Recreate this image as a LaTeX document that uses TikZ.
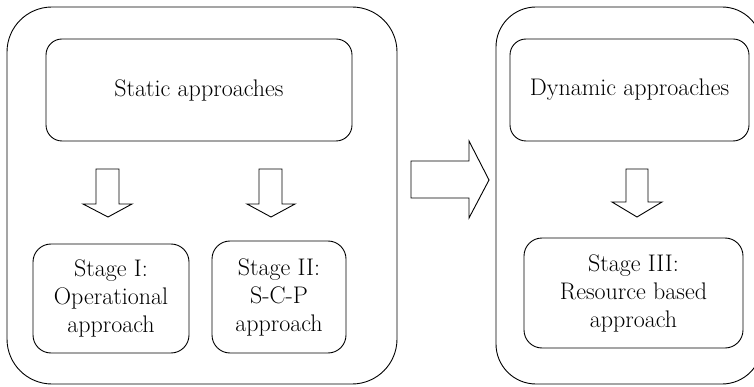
\documentclass[tikz,border=0pt]{standalone}
\begin{document}
\begin{tikzpicture}[x=1pt,y=-1pt,
  box/.style={draw, line width=0.9pt, rounded corners=#1, inner sep=0pt, align=center,
    font=\rmfamily\fontsize{24}{28}\selectfont},
  box/.default=16pt,
  blockarrow/.style={draw, line width=0.9pt, fill=white}]
\useasboundingbox (0,0) rectangle (754,387);
% outer containers
\node[box=45pt, minimum width=390pt, minimum height=377pt] (outerL) at (202,195.5) {};
\node[box=40pt, minimum width=266pt, minimum height=377pt] (outerR) at (629,195.5) {};
% inner boxes
\node[box, minimum width=306pt, minimum height=102pt] (static) at (199,90) {Static approaches};
\node[box=18pt, minimum width=156pt, minimum height=109pt] (s1) at (111,298.5) {Stage I:\\Operational\\approach};
\node[box=18pt, minimum width=134pt, minimum height=112pt] (s2) at (279,297) {Stage II:\\S-C-P\\approach};
\node[box, minimum width=239pt, minimum height=102pt] (dyn) at (629.5,90) {Dynamic approaches};
\node[box=18pt, minimum width=219pt, minimum height=110pt] (s3) at (633.5,293) {Stage III:\\Resource based\\approach};
% block arrows
\draw[blockarrow] (96,169) -- (119,169) -- (119,204) -- (132,204) -- (108,217) -- (83,204) -- (96,204) -- cycle;
\draw[blockarrow] (259,169) -- (282,169) -- (282,204) -- (295,204) -- (271,217) -- (247,204) -- (259,204) -- cycle;
\draw[blockarrow] (626,169) -- (648,169) -- (648,202) -- (662,202) -- (637,217) -- (612,202) -- (626,202) -- cycle;
\draw[blockarrow] (411,161) -- (469,161) -- (469,141) -- (489,180) -- (469,218) -- (469,198) -- (411,198) -- cycle;
\end{tikzpicture}
\end{document}
